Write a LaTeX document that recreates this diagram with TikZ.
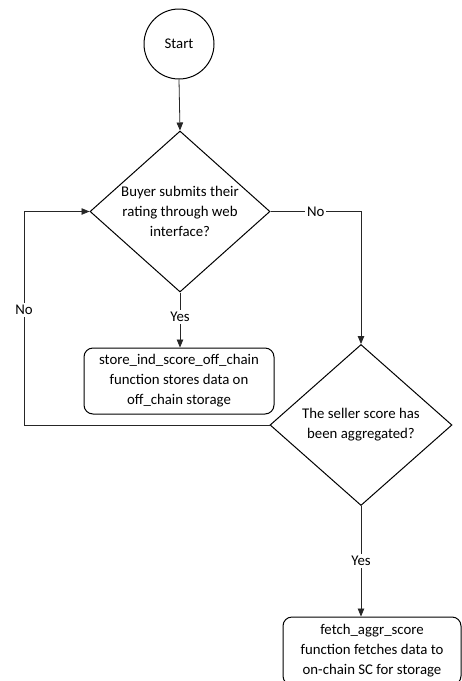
\documentclass[tikz,border=0pt]{standalone}
\usepackage{fontspec}
\setmainfont{Carlito}
\usetikzlibrary{shapes.geometric,arrows.meta}
\begin{document}
\begin{tikzpicture}[x=1pt,y=-1pt,
  every node/.style={font=\fontsize{14.8}{20}\selectfont},
  line/.style={draw=black!85,line width=0.8pt},
  arr/.style={line,-{Triangle[length=8pt,width=6.5pt]}},
  shp/.style={draw=black,line width=1pt},
  dia/.style={shp,diamond,inner sep=0pt,minimum width=180pt,minimum height=161pt},
  proc/.style={shp,rectangle,rounded corners=9pt,inner sep=0pt,align=center},
  lbl/.style={fill=white,inner sep=2pt}]
\useasboundingbox[fill=white] (0,0) rectangle (462,681);
\clip (0,0) rectangle (462,681);
\node[shp,circle,minimum size=70pt,inner sep=0pt] (s) at (179,44) {Start};
\node[dia] (d1) at (180,211.5) {};
\node[align=center] at (d1.center) {Buyer submits their\\rating through web\\interface?};
\node[proc,minimum width=190pt,minimum height=66pt] (b1) at (179,381)
  {store\_ind\_score\_off\_chain\\function stores data on\\off\_chain storage};
\node[dia,minimum width=182pt] (d2) at (361,425) {};
\node[align=center] at (d2.center) {The seller score has\\been aggregated?};
\node[proc,minimum width=178pt,minimum height=68pt] (b2) at (372,651)
  {fetch\_aggr\_score\\function fetches data to\\on-chain SC for storage};
\coordinate (lx) at (24,425);
\coordinate (ly) at (24,211.5);
\draw[arr] (s.south) -- (d1.north);
\draw[arr] (d1.south) -- node[lbl,pos=0.45]{Yes} (b1.north -| d1.south);
\draw[arr] (d1.east) -- node[lbl]{No} (d1.east -| d2.north) -- (d2.north);
\draw[arr] (d2.west) -- (lx) -- node[lbl,pos=0.54]{No} (ly) -- (d1.west);
\draw[arr] (d2.south) -- node[lbl]{Yes} (b2.north -| d2.south);
\end{tikzpicture}
\end{document}
